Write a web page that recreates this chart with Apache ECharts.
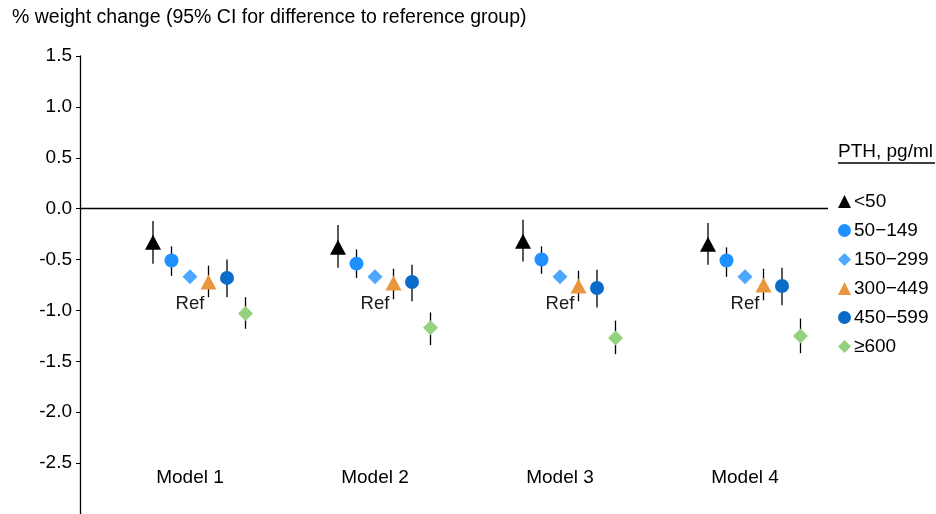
<!DOCTYPE html>
<html>
<head>
<meta charset="utf-8">
<script src="https://cdn.jsdelivr.net/npm/echarts@6/dist/echarts.min.js"></script>
<style>html,body{margin:0;padding:0;background:#fff;}#c{width:936px;height:514px;}</style>
</head>
<body>
<div id="c"></div>
<script>
// ---- data ----
const models = ['Model 1', 'Model 2', 'Model 3', 'Model 4'];
const groups = ['<50', '50\u2212149', '150\u2212299', '300\u2212449', '450\u2212599', '\u2265600'];
const yTicks = [-3.0, -2.5, -2.0, -1.5, -1.0, -0.5, 0.0, 0.5, 1.0, 1.5];

const est_lt50 = [-0.33, -0.38, -0.32, -0.35];
const lo_lt50  = [-0.54, -0.58, -0.52, -0.55];
const hi_lt50  = [-0.12, -0.16, -0.11, -0.14];

const est_50_149 = [-0.51, -0.54, -0.50, -0.51];
const lo_50_149  = [-0.66, -0.68, -0.64, -0.67];
const hi_50_149  = [-0.37, -0.40, -0.37, -0.38];

const est_150_299 = [-0.67, -0.67, -0.67, -0.67]; // reference group (no CI)

const est_300_449 = [-0.72, -0.73, -0.76, -0.75];
const lo_300_449  = [-0.87, -0.89, -0.91, -0.90];
const hi_300_449  = [-0.56, -0.59, -0.61, -0.59];

const est_450_599 = [-0.68, -0.72, -0.78, -0.76];
const lo_450_599  = [-0.87, -0.91, -0.97, -0.95];
const hi_450_599  = [-0.50, -0.55, -0.60, -0.58];

const est_600 = [-1.03, -1.17, -1.27, -1.25];
const lo_600  = [-1.18, -1.34, -1.43, -1.42];
const hi_600  = [-0.87, -1.02, -1.10, -1.08];

// ---- layout / style ----
const FONT = "'Liberation Sans', Arial, sans-serif";
const offsets = [-0.2, -0.1, 0, 0.1, 0.2, 0.3];
const colors = ['#000000', '#1E90FF', '#4DA6FF', '#E9963E', '#0A6CC9', '#93D27F'];
const symbols = ['triangle', 'circle', 'diamond', 'triangle', 'circle', 'diamond'];
const sizes = [[16, 15], 14, [15, 15], [16, 15], 14, [15, 15]];

const ests = [est_lt50, est_50_149, est_150_299, est_300_449, est_450_599, est_600];
const los = [lo_lt50, lo_50_149, null, lo_300_449, lo_450_599, lo_600];
const his = [hi_lt50, hi_50_149, null, hi_300_449, hi_450_599, hi_600];

const ciData = [];
ests.forEach((e, j) => {
  if (!los[j]) return;
  e.forEach((v, i) => ciData.push([i + offsets[j], los[j][i], his[j][i]]));
});

const series = [{
  type: 'custom',
  name: 'ci',
  z: 1,
  silent: true,
  data: ciData,
  encode: { x: 0, y: [1, 2] },
  renderItem: function (params, api) {
    const x = api.value(0);
    const p1 = api.coord([x, api.value(1)]);
    const p2 = api.coord([x, api.value(2)]);
    return { type: 'line', shape: { x1: p1[0], y1: p1[1], x2: p2[0], y2: p2[1] },
      style: { stroke: '#000', lineWidth: 1.3 } };
  },
  markLine: {
    silent: true, symbol: 'none', animation: false,
    label: { show: false },
    lineStyle: { color: '#000', width: 1.3, type: 'solid' },
    data: [{ yAxis: 0 }]
  }
}];

groups.forEach((g, j) => {
  series.push({
    type: 'scatter',
    name: g,
    z: 3,
    symbol: symbols[j],
    symbolSize: sizes[j],
    itemStyle: { color: colors[j], opacity: 1 },
    data: ests[j].map((v, i) => [i + offsets[j], v]),
    label: j === 2 ? {
      show: true, formatter: 'Ref', position: 'inside', offset: [0, 27],
      color: '#1a1a1a', fontSize: 18.5, fontFamily: FONT
    } : { show: false }
  });
});

const chart = echarts.init(document.getElementById('c'), null, { renderer: 'canvas' });
chart.setOption({
  animation: false,
  backgroundColor: '#fff',
  textStyle: { fontFamily: FONT },
  grid: { left: 80, right: 108, top: 56, bottom: -4 },
  xAxis: {
    type: 'value',
    min: (80 - 190) / 185,
    max: (828 - 190) / 185,
    axisLine: { show: false },
    axisTick: { show: false },
    splitLine: { show: false },
    axisLabel: {
      customValues: [0, 1, 2, 3],
      formatter: v => models[Math.round(v)],
      margin: -36,
      verticalAlign: 'middle',
      color: '#000', fontSize: 19, fontFamily: FONT
    }
  },
  yAxis: {
    type: 'value',
    min: yTicks[0],
    max: yTicks[yTicks.length - 1],
    interval: 0.5,
    splitLine: { show: false },
    axisLine: { show: true, onZero: false, lineStyle: { color: '#000', width: 1.3 } },
    axisTick: { show: true, length: 4, lineStyle: { color: '#000', width: 1 } },
    axisLabel: {
      showMinLabel: false,
      formatter: v => v.toFixed(1),
      margin: 8, color: '#000', fontSize: 19, fontFamily: FONT
    }
  },
  legend: {
    orient: 'vertical',
    left: 838, top: 192,
    itemWidth: 13, itemHeight: 13, itemGap: 10,
    padding: 0,
    data: groups,
    textStyle: { color: '#000', fontSize: 19, fontFamily: FONT, padding: [0, 0, 0, -2] }
  },
  graphic: [
    { type: 'text', left: 12, top: 8,
      style: { text: '% weight change (95% CI for difference to reference group)', fill: '#000',
        fontSize: 19.5, fontFamily: FONT } },
    { type: 'text', left: 838, top: 142,
      style: { text: 'PTH, pg/ml', fill: '#000', fontSize: 19, fontFamily: FONT } },
    { type: 'line', shape: { x1: 838, y1: 163, x2: 935, y2: 163 },
      style: { stroke: '#000', lineWidth: 1.3 } }
  ],
  series: series
});
</script>
</body>
</html>
